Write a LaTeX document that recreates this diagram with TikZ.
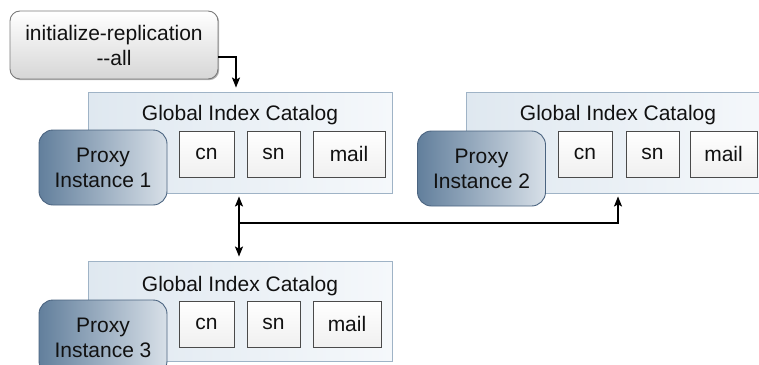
\documentclass[tikz,border=0pt]{standalone}
\usepackage{fontspec}
\setmainfont{Liberation Sans}
\usetikzlibrary{arrows.meta,calc,shadows}
\definecolor{txt}{HTML}{111111}
\definecolor{catborder}{HTML}{9FB3C6}
\definecolor{catleft}{HTML}{DFE8F0}
\definecolor{catright}{HTML}{F5F8FB}
\definecolor{proxyleft}{HTML}{627F9C}
\definecolor{proxymid}{HTML}{9DAFC1}
\definecolor{proxyright}{HTML}{D8E0E8}
\definecolor{proxyborder}{HTML}{4B6480}
\definecolor{boxborder}{HTML}{4A4A4A}
\definecolor{initborder}{HTML}{7A7A7A}
\tikzset{
  lbl/.style={font=\fontsize{21}{25}\selectfont, text=txt, align=center},
  catbox/.style={draw=catborder, line width=0.9pt, left color=catleft, right color=catright,
    inner sep=0pt, drop shadow={shadow xshift=1.2pt, shadow yshift=-1.2pt, fill=black!55, opacity=0.8}},
  fieldbox/.style={lbl, draw=boxborder, line width=0.8pt, top color=white, bottom color=black!6,
    inner sep=0pt, minimum height=46pt, drop shadow={shadow xshift=1.2pt, shadow yshift=-1.2pt, fill=black!60, opacity=0.8}},
  proxybox/.style={lbl, draw=proxyborder, line width=0.9pt, left color=proxyleft, middle color=proxymid, right color=proxyright,
    rounded corners=14pt, inner sep=0pt, minimum width=128pt, minimum height=75pt},
  initbox/.style={lbl, draw=initborder, line width=0.9pt, top color=white, bottom color=black!16,
    rounded corners=10pt, inner sep=0pt, minimum width=208pt, minimum height=68pt,
    drop shadow={shadow xshift=1.2pt, shadow yshift=-1.2pt, fill=black!50, opacity=0.6}},
  conn/.style={line width=1.3pt, draw=black},
  tip/.style={-{Stealth[length=10pt,width=8pt,inset=2pt]}},
  dtip/.style={{Stealth[length=10pt,width=8pt,inset=2pt]}-{Stealth[length=10pt,width=8pt,inset=2pt]}}
}
\begin{document}
\begin{tikzpicture}[x=1pt,y=-1pt]
\useasboundingbox (0,0) rectangle (759,364);
\clip (0,0) rectangle (759,364);
% catalogs
\node[catbox, minimum width=304pt, minimum height=101pt] (cat1) at (240,142.5) {};
\node[lbl, anchor=base] (t1) at (240,120) {Global Index Catalog};
\node[fieldbox, minimum width=55pt] (cn1) at (206.5,154) {cn};
\node[fieldbox, minimum width=53pt] (sn1) at (273.5,154) {sn};
\node[fieldbox, minimum width=72pt] (mail1) at (349,154) {mail};

\node[catbox, minimum width=304pt, minimum height=101pt] (cat2) at (618,142.5) {};
\node[lbl, anchor=base] (t2) at (618,120) {Global Index Catalog};
\node[fieldbox, minimum width=54pt] (cn2) at (585,154) {cn};
\node[fieldbox, minimum width=53pt] (sn2) at (652.5,154) {sn};
\node[fieldbox, minimum width=67pt] (mail2) at (723.5,154) {mail};

\node[catbox, minimum width=304pt, minimum height=100pt] (cat3) at (240,311) {};
\node[lbl, anchor=base] (t3) at (240,291) {Global Index Catalog};
\node[fieldbox, minimum width=55pt] (cn3) at (206.5,324) {cn};
\node[fieldbox, minimum width=53pt] (sn3) at (273.5,324) {sn};
\node[fieldbox, minimum width=68pt] (mail3) at (347,324) {mail};

% proxies
\node[proxybox] (p1) at (103,167.5) {Proxy\\Instance 1};
\node[proxybox] (p2) at (481.5,168.5) {Proxy\\Instance 2};
\node[proxybox] (p3) at (103,337.5) {Proxy\\Instance 3};

% init
\node[initbox] (init) at (114,45) {initialize-replication\\-{}-all};

% connectors
\coordinate (a0) at ($(init.east)+(0,12)$);
\coordinate (a1) at ($(cat1.north)+(-4,0)$);
\draw[conn, tip] (a0) -| ([yshift=4pt]a1);
\coordinate (b0) at ($(cat1.south)+(-1,0)$);
\coordinate (b1) at ($(cat3.north)+(-1,0)$);
\draw[conn, dtip, shorten <=3pt, shorten >=4pt] (b0) -- (b1);
\coordinate (j) at ($(b0)!0.44!(b1)$);
\draw[conn, tip, shorten >=3pt] (j) -| (cat2.south);
\end{tikzpicture}
\end{document}
